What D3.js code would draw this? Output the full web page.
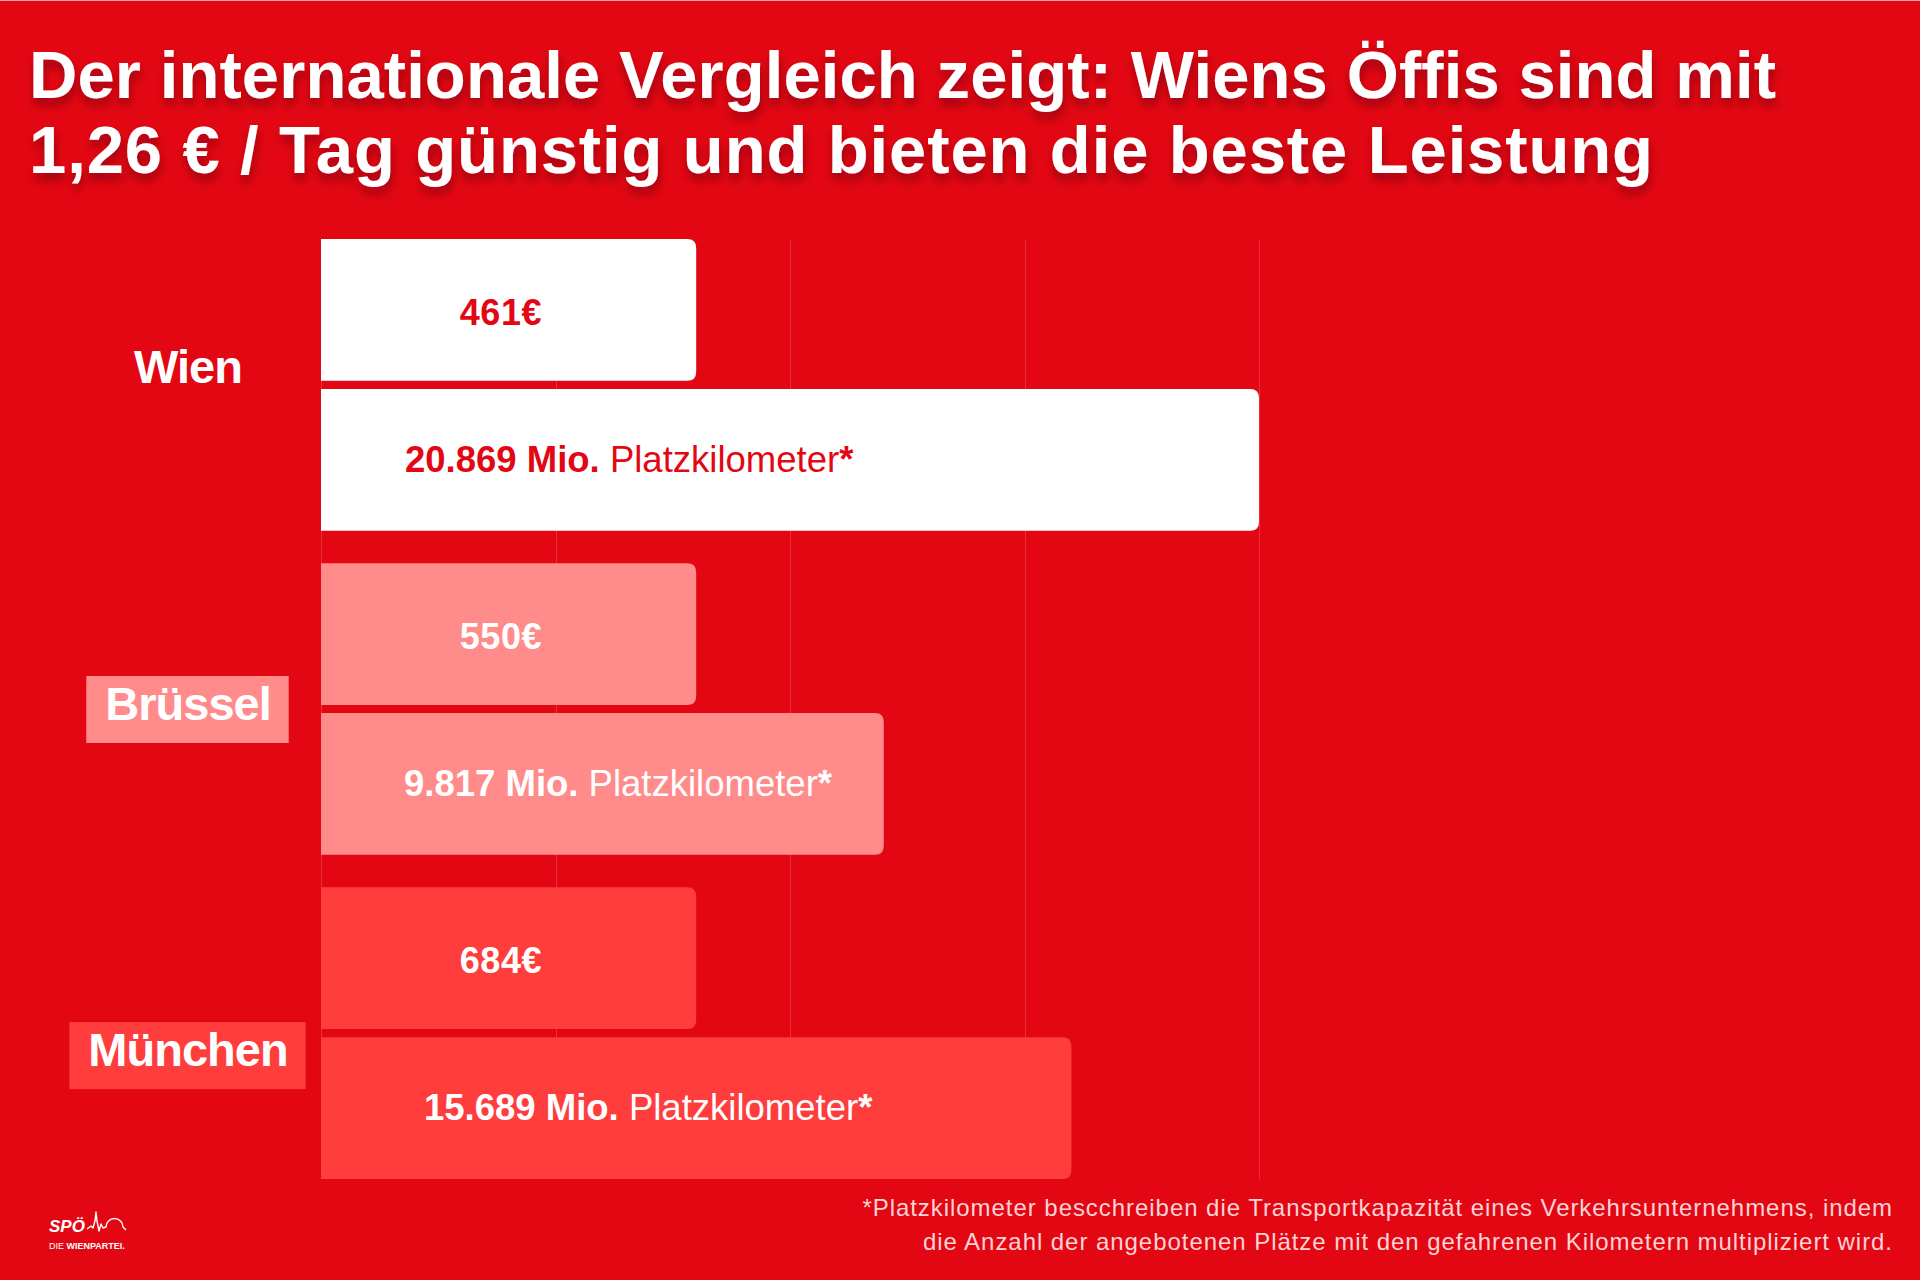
<!DOCTYPE html>
<html>
<head>
<meta charset="utf-8">
<script src="https://cdn.jsdelivr.net/npm/d3@7"></script>
<style>
  html, body { margin: 0; padding: 0; background: #e20713; }
  svg { display: block; font-family: "Liberation Sans", Arial, sans-serif; }
</style>
</head>
<body>
<svg id="chart" width="1920" height="1280"></svg>
<script>
// data
const cities = ["Wien", "Brüssel", "München"];
const prices = [461, 550, 684];             // € per year
const platzkm = [20869, 9817, 15689];       // Mio. Platzkilometer
// bar lengths as drawn, in grid units (the graphic is not to scale)
const priceBarLen = [1.6, 1.6, 1.6];
const pkmBarLen = [4, 2.4, 3.2];
const gridTicks = [0, 1, 2, 3, 4];

const titleLines = [
  "Der internationale Vergleich zeigt: Wiens Öffis sind mit",
  "1,26 € / Tag günstig und bieten die beste Leistung"
];
const footLines = [
  "*Platzkilometer bescchreiben die Transportkapazität eines Verkehrsunternehmens, indem",
  "die Anzahl der angebotenen Plätze mit den gefahrenen Kilometern multipliziert wird."
];

const bg = "#e20713";
const fills = ["#ffffff", "#ff8b8b", "#ff3d3d"];
const textFill = ["#e20713", "#ffffff", "#ffffff"];
const labelBox = [null, "#ff8b8b", "#ff3d3d"];
// per-city nudges of the labels, as in the original layout
const labelDy = [-2, 11, 33];
const pkmDx = [84, 83, 103];
const titleWidth = [1747, 1624];

const de = d3.formatLocale({decimal: ",", thousands: ".", grouping: [3], currency: ["", "€"]});
const fmt = de.format(",");

const svg = d3.select("#chart");

const defs = svg.append("defs");
const f = defs.append("filter").attr("id", "shadow")
  .attr("x", "-5%").attr("y", "-30%").attr("width", "110%").attr("height", "170%");
f.append("feDropShadow")
  .attr("dx", 1).attr("dy", 7).attr("stdDeviation", 5)
  .attr("flood-color", "#6e0008").attr("flood-opacity", 0.6);

svg.append("rect").attr("width", 1920).attr("height", 1280).attr("fill", bg);
svg.append("rect").attr("width", 1920).attr("height", 1).attr("fill", "#f3a3a6");

// title
svg.append("g").attr("filter", "url(#shadow)")
  .selectAll("text")
  .data(titleLines)
  .join("text")
    .attr("x", 29)
    .attr("y", (d, i) => 98 + i * 75)
    .attr("fill", "#fff")
    .attr("font-size", 67)
    .attr("font-weight", "bold")
    .attr("textLength", (d, i) => titleWidth[i])
    .attr("lengthAdjust", "spacing")
    .text(d => d);

// scales
let x = d3.scaleLinear().domain([0, 4]).range([321, 1259]);
let y = d3.scaleBand().domain(cities).range([239, 1179]).paddingInner(0.1).paddingOuter(0);
let yInner = d3.scaleBand().domain(["price", "pkm"]).range([0, y.bandwidth()]).paddingInner(0.055);

// gridlines
svg.append("g")
  .selectAll("line")
  .data(gridTicks)
  .join("line")
    .attr("x1", d => Math.round(x(d)) + 0.5)
    .attr("x2", d => Math.round(x(d)) + 0.5)
    .attr("y1", 240)
    .attr("y2", 1179)
    .attr("stroke", "rgba(255,255,255,0.17)")
    .attr("stroke-width", 1);

let rightRounded = (x0, y0, w, h, r) =>
  `M${x0},${y0}H${x0 + w - r}Q${x0 + w},${y0} ${x0 + w},${y0 + r}` +
  `V${y0 + h - r}Q${x0 + w},${y0 + h} ${x0 + w - r},${y0 + h}H${x0}Z`;

const rows = cities.map((c, i) => ({
  city: c, i: i, price: prices[i], pkm: platzkm[i],
  priceLen: priceBarLen[i], pkmLen: pkmBarLen[i]
}));

const groups = svg.append("g")
  .selectAll("g")
  .data(rows)
  .join("g")
    .attr("transform", d => `translate(0,${y(d.city)})`);

// price bars
groups.append("path")
  .attr("d", d => rightRounded(x(0), yInner("price"), x(d.priceLen) - x(0), yInner.bandwidth(), 9))
  .attr("fill", d => fills[d.i]);

groups.append("text")
  .attr("x", 501)
  .attr("y", yInner("price") + yInner.bandwidth() / 2 + 15)
  .attr("text-anchor", "middle")
  .attr("font-size", 36)
  .attr("font-weight", "bold")
  .attr("letter-spacing", 0.6)
  .attr("fill", d => textFill[d.i])
  .text(d => d.price + "€");

// Platzkilometer bars
groups.append("path")
  .attr("d", d => rightRounded(x(0), yInner("pkm"), x(d.pkmLen) - x(0), yInner.bandwidth(), 9))
  .attr("fill", d => fills[d.i]);

let pk = groups.append("text")
  .attr("x", d => x(0) + pkmDx[d.i])
  .attr("y", yInner("pkm") + yInner.bandwidth() / 2 + 12)
  .attr("font-size", 36.5)
  .attr("fill", d => textFill[d.i]);
pk.append("tspan").attr("font-weight", "bold").text(d => fmt(d.pkm) + " Mio. ");
pk.append("tspan").text("Platzkilometer");
pk.append("tspan").attr("font-weight", "bold").text("*");

// city labels
const labels = groups.append("g")
  .attr("transform", d => `translate(188,${y.bandwidth() / 2 + labelDy[d.i]})`);
labels.append("text")
  .attr("text-anchor", "middle")
  .attr("font-size", 47)
  .attr("font-weight", "bold")
  .attr("letter-spacing", -1)
  .attr("fill", "#fff")
  .text(d => d.city);
labels.each(function(d) {
  if (!labelBox[d.i]) return;
  const g = d3.select(this);
  const bb = g.select("text").node().getBBox();
  g.insert("rect", "text")
    .attr("x", bb.x - 19)
    .attr("y", -44)
    .attr("width", bb.width + 37)
    .attr("height", 67)
    .attr("fill", labelBox[d.i]);
});

// footnote
svg.append("g")
  .selectAll("text")
  .data(footLines)
  .join("text")
    .attr("x", 1893)
    .attr("y", (d, i) => 1216 + i * 34)
    .attr("text-anchor", "end")
    .attr("font-size", 24)
    .attr("letter-spacing", 0.95)
    .attr("fill", "#ffd3d5")
    .text(d => d);

// logo
const logo = svg.append("g").attr("fill", "#fff");
logo.append("text")
  .attr("x", 49).attr("y", 1232)
  .attr("font-size", 17).attr("font-weight", "bold").attr("font-style", "italic")
  .text("SPÖ");
logo.append("path")
  .attr("d", "M87,1229L91,1226L93,1228L95,1221L96,1212L97,1221L99,1231L101,1224L103,1228L106,1227" +
    "A8.5,8.5 0 0 1 123,1227L126,1230")
  .attr("fill", "none").attr("stroke", "#fff").attr("stroke-width", 1.4)
  .attr("stroke-linejoin", "round");
let tag = logo.append("text").attr("x", 49).attr("y", 1249).attr("font-size", 9);
tag.append("tspan").text("DIE ");
tag.append("tspan").attr("font-weight", "bold").text("WIENPARTEI.");
</script>
</body>
</html>
